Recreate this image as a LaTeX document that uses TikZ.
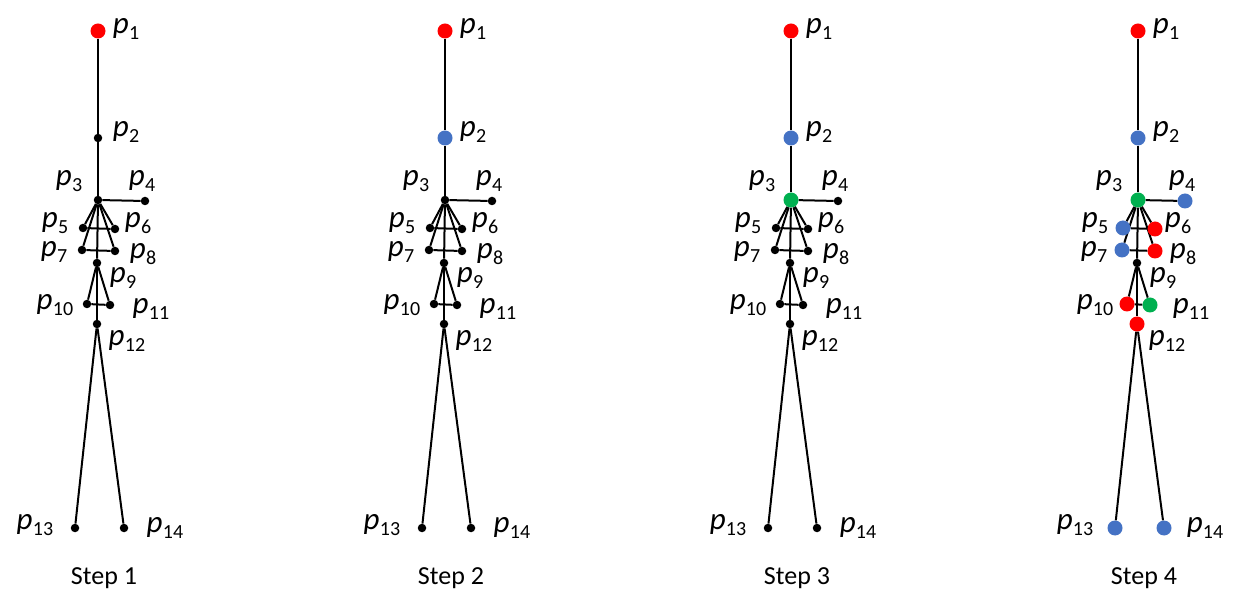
\documentclass[tikz,border=0pt]{standalone}
\usepackage{fontspec}
\setmainfont{Carlito}
\usetikzlibrary{backgrounds}
\definecolor{pred}{RGB}{255,0,0}
\definecolor{pblue}{RGB}{68,114,196}
\definecolor{pgreen}{RGB}{0,176,80}
\newcommand\plab[1]{\textit{p}\kern0.3pt\raisebox{-0.22em}{\fontsize{20}{20}\selectfont #1}}
\def\xlist{{98,98,98,145,83,115,82,115,97,87,110,97,75,124}}
\def\ylist{{31,138,200,201,228,229,250,251,263,304,305,324,528,528}}
\begin{document}
\begin{tikzpicture}[x=1pt,y=-1pt,
  bone/.style={line width=2pt,black},
  plabel/.style={inner sep=0pt,font=\fontsize{31}{31}\selectfont},
  steplabel/.style={inner sep=0pt,font=\fontsize{26}{26}\selectfont}]
\useasboundingbox (0,0) rectangle (1235,593);
\foreach \s/\off/\lst in {
  1/0/{pred/15,black/8.5,black/8.5,black/8.5,black/8.5,black/8.5,black/8.5,black/8.5,black/8.5,black/8.5,black/8.5,black/8.5,black/8.5,black/8.5},
  2/347/{pred/15,pblue/15,black/8.5,black/8.5,black/8.5,black/8.5,black/8.5,black/8.5,black/8.5,black/8.5,black/8.5,black/8.5,black/8.5,black/8.5},
  3/693/{pred/15,pblue/15,pgreen/15,black/8.5,black/8.5,black/8.5,black/8.5,black/8.5,black/8.5,black/8.5,black/8.5,black/8.5,black/8.5,black/8.5},
  4/1040/{pred/15,pblue/15,pgreen/15,pblue/15,pblue/15,pred/15,pblue/15,pred/15,black/8.5,pred/15,pgreen/15,pred/15,pblue/15,pblue/15}}{
  \foreach \c/\z [count=\j] in \lst {
    \pgfmathsetmacro\xx{\xlist[\j-1]+\off}
    \pgfmathsetmacro\yy{\ylist[\j-1]}
    \node[circle,inner sep=0pt,fill=\c,minimum size=\z pt] (s\s-\j) at (\xx,\yy) {};
  }
  \begin{pgfonlayer}{background}
  \foreach \a/\b in {1/2,2/3,3/4,3/5,3/6,3/7,3/8,5/6,7/8,3/9,9/12,9/10,9/11,10/11,12/13,12/14}
    \draw[bone] (s\s-\a) -- (s\s-\b);
  \end{pgfonlayer}
  \foreach \j/\lx/\ly in {1/126/29,2/126/132,3/69/181,4/142/181,5/55/223,6/138/223,7/54/252,8/143/254,9/123/278,10/55/305,11/151/309,12/127/341,13/35/525,14/165/528}
    \node[plabel] (s\s-l\j) at (\lx+\off,\ly) {\plab{\j}};
  \node[steplabel] (step\s) at (104+\off,578) {Step \s};
}
\end{tikzpicture}
\end{document}
